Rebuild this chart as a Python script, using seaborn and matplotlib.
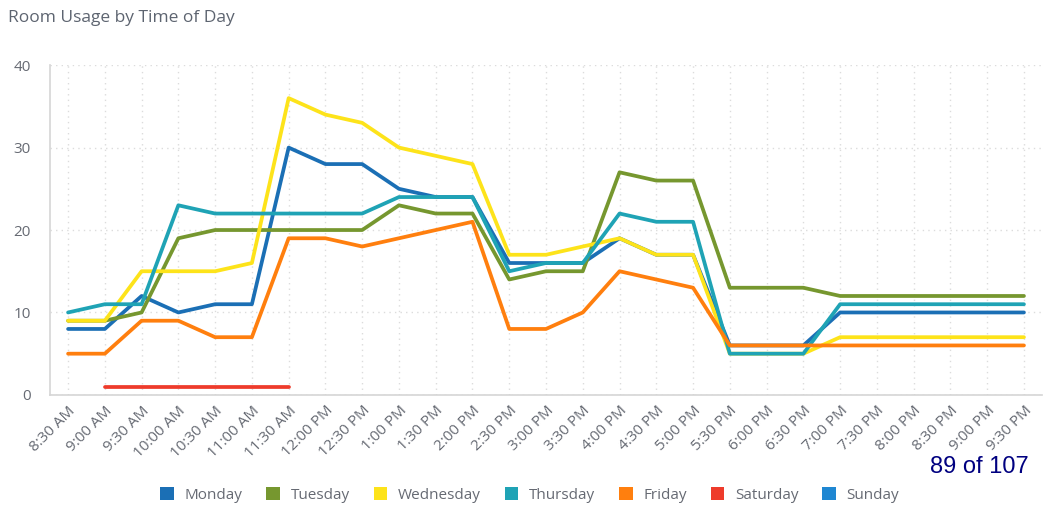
import numpy as np
import pandas as pd
import matplotlib
matplotlib.use("Agg")
import matplotlib.pyplot as plt
from matplotlib.patches import Patch
import seaborn as sns

times = ["8:30 AM", "9:00 AM", "9:30 AM", "10:00 AM", "10:30 AM", "11:00 AM", "11:30 AM",
         "12:00 PM", "12:30 PM", "1:00 PM", "1:30 PM", "2:00 PM", "2:30 PM", "3:00 PM",
         "3:30 PM", "4:00 PM", "4:30 PM", "5:00 PM", "5:30 PM", "6:00 PM", "6:30 PM",
         "7:00 PM", "7:30 PM", "8:00 PM", "8:30 PM", "9:00 PM", "9:30 PM"]

nan = np.nan
monday    = [8, 8, 12, 10, 11, 11, 30, 28, 28, 25, 24, 24, 16, 16, 16, 19, 17, 17, 6, 6, 6, 10, 10, 10, 10, 10, 10]
tuesday   = [9, 9, 10, 19, 20, 20, 20, 20, 20, 23, 22, 22, 14, 15, 15, 27, 26, 26, 13, 13, 13, 12, 12, 12, 12, 12, 12]
wednesday = [9, 9, 15, 15, 15, 16, 36, 34, 33, 30, 29, 28, 17, 17, 18, 19, 17, 17, 5, 5, 5, 7, 7, 7, 7, 7, 7]
thursday  = [10, 11, 11, 23, 22, 22, 22, 22, 22, 24, 24, 24, 15, 16, 16, 22, 21, 21, 5, 5, 5, 11, 11, 11, 11, 11, 11]
friday    = [5, 5, 9, 9, 7, 7, 19, 19, 18, 19, 20, 21, 8, 8, 10, 15, 14, 13, 6, 6, 6, 6, 6, 6, 6, 6, 6]
saturday  = [nan, 1, 1, 1, 1, 1, 1] + [nan] * 20
sunday    = [nan] * 27

days = ["Monday", "Tuesday", "Wednesday", "Thursday", "Friday", "Saturday", "Sunday"]
series = [monday, tuesday, wednesday, thursday, friday, saturday, sunday]
colors = ["#1b6fb5", "#76972f", "#fde31a", "#1fa3b5", "#ff7f0e", "#ee3b2b", "#1f87d2"]
palette = dict(zip(days, colors))

df = pd.DataFrame({
    "time": np.tile(times, len(days)),
    "day": np.repeat(days, len(times)),
    "count": np.concatenate([np.asarray(s, dtype=float) for s in series]),
})
df["x"] = np.tile(np.arange(len(times)), len(days))

sns.set_theme(style="white")
plt.rcParams["font.family"] = ["Open Sans", "DejaVu Sans"]

fig = plt.figure(figsize=(10.43, 5.05), dpi=100)
ax = fig.add_axes([0.048, 0.218, 0.951, 0.653])

for day in days:
    sub = df[df["day"] == day].dropna(subset=["count"])
    if sub.empty:
        continue
    sns.lineplot(data=sub, x="x", y="count", color=palette[day], linewidth=2.7,
                 ax=ax, legend=False, sort=False, estimator=None)

ax.set_xlim(-0.49, len(times) - 0.51)
ax.set_ylim(0, 40)
ax.set_yticks([0, 10, 20, 30, 40])
ax.set_xticks(np.arange(len(times)))
ax.set_xticklabels(times, rotation=45, ha="right", rotation_mode="anchor",
                   fontsize=11, color="#666a73")
ax.tick_params(axis="y", labelsize=11, colors="#666a73", length=0, pad=14)
ax.tick_params(axis="x", length=0, pad=6)
ax.set_xlabel("")
ax.set_ylabel("")

ax.grid(True, color="#dcdcdc", linestyle=(0, (1, 3)), linewidth=1.0)
ax.set_axisbelow(True)
for side in ["top", "right"]:
    ax.spines[side].set_visible(False)
for side in ["left", "bottom"]:
    ax.spines[side].set_color("#d5d5d5")
    ax.spines[side].set_linewidth(1.2)

fig.text(0.008, 0.965, "Room Usage by Time of Day", fontsize=12.5, color="#5d6470",
         ha="left", va="center")
fig.text(0.986, 0.076, "89 of 107", fontsize=17, color="#000080",
         ha="right", va="center", family=["Liberation Sans", "DejaVu Sans"])

handles = [Patch(facecolor=palette[d], edgecolor="none", label=d) for d in days]
fig.legend(handles=handles, loc="center", bbox_to_anchor=(0.508, 0.02), ncol=len(days),
           frameon=False, fontsize=11, handlelength=0.9, handleheight=0.9,
           handletextpad=0.7, columnspacing=1.55, labelcolor="#666a73")

fig.savefig("out.png", dpi=100)
